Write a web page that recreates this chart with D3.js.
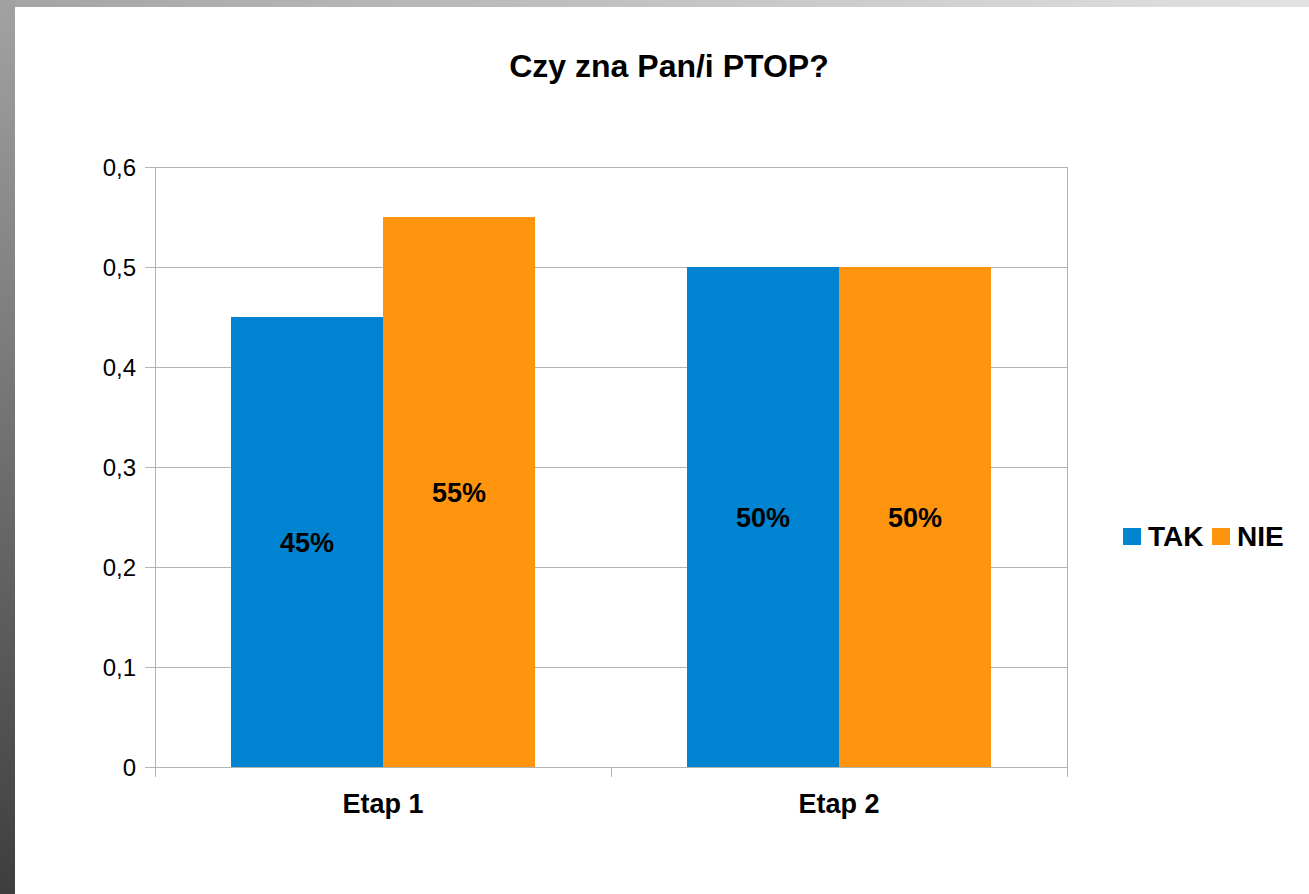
<!DOCTYPE html>
<html lang="pl">
<head>
<meta charset="UTF-8">
<title>Czy zna Pan/i PTOP?</title>
<script src="https://d3js.org/d3.v7.min.js"></script>
<style>
    body { margin: 0; padding: 0; background: #fff; font-family: "Liberation Sans", Arial, sans-serif; }
    svg { display: block; }
    .tick-label { font-size: 24px; fill: #000; }
    .cat-label { font-size: 27px; font-weight: bold; fill: #000; }
    .val-label { font-size: 27px; font-weight: bold; fill: #000; }
    .legend-text { font-size: 28px; font-weight: bold; fill: #000; }
</style>
</head>
<body>
<svg width="1309" height="894"></svg>
<script>
    const categories = ["Etap 1", "Etap 2"];
    const series = ["TAK", "NIE"];
    const takValues = [0.45, 0.5];
    const nieValues = [0.55, 0.5];
    const valueLabels = [["45%", "55%"], ["50%", "50%"]];
    const yTicks = [0, 0.1, 0.2, 0.3, 0.4, 0.5, 0.6];
    const colors = ["#0084d1", "#ff950e"];

    const width = 1309, height = 894;
    const svg = d3.select("svg");

    // ramka jak w zrzucie ekranu (gradienty)
    const defs = svg.append("defs");
    const gLeft = defs.append("linearGradient").attr("id", "gl")
        .attr("x1", 0).attr("y1", 0).attr("x2", 0).attr("y2", 1);
    gLeft.append("stop").attr("offset", "0%").attr("stop-color", "#a2a2a2");
    gLeft.append("stop").attr("offset", "100%").attr("stop-color", "#3e3e3e");
    const gTop = defs.append("linearGradient").attr("id", "gt")
        .attr("x1", 0).attr("y1", 0).attr("x2", 1).attr("y2", 0);
    gTop.append("stop").attr("offset", "0%").attr("stop-color", "#a4a4a4");
    gTop.append("stop").attr("offset", "100%").attr("stop-color", "#e2e2e2");

    svg.append("rect").attr("x", 0).attr("y", 0).attr("width", width).attr("height", 7).attr("fill", "url(#gt)");
    svg.append("rect").attr("x", 0).attr("y", 0).attr("width", 15).attr("height", height).attr("fill", "url(#gl)");

    const margin = { left: 155, top: 167, right: 1067, bottom: 767 };

    const x0 = d3.scaleBand().domain(categories).range([margin.left, margin.right]).paddingInner(0).paddingOuter(0);
    const x1 = d3.scaleBand().domain(series).range([0, x0.bandwidth()]).paddingInner(0).paddingOuter(0.5);
    const y = d3.scaleLinear().domain([0, 0.6]).range([margin.bottom, margin.top]);

    // siatka
    svg.append("g").selectAll("line").data(yTicks).join("line")
        .attr("x1", margin.left - 10).attr("x2", margin.right)
        .attr("y1", d => Math.round(y(d)) + 0.5).attr("y2", d => Math.round(y(d)) + 0.5)
        .attr("stroke", "#b3b3b3").attr("stroke-width", 1);

    // oś pionowa i prawa krawędź
    svg.append("line").attr("x1", margin.left + 0.5).attr("x2", margin.left + 0.5)
        .attr("y1", margin.top).attr("y2", margin.bottom + 10)
        .attr("stroke", "#b3b3b3");
    svg.append("line").attr("x1", margin.right + 0.5).attr("x2", margin.right + 0.5)
        .attr("y1", margin.top).attr("y2", margin.bottom + 10)
        .attr("stroke", "#b3b3b3");
    // znaczniki kategorii
    const xTicks = categories.map(c => x0(c)).concat([margin.right]);
    svg.append("g").selectAll("line").data(xTicks).join("line")
        .attr("x1", d => d + 0.5).attr("x2", d => d + 0.5)
        .attr("y1", margin.bottom).attr("y2", margin.bottom + 10)
        .attr("stroke", "#b3b3b3");

    // słupki
    const rows = categories.map((c, i) => ({ cat: c, vals: [takValues[i], nieValues[i]], labels: valueLabels[i] }));
    const groups = svg.append("g").selectAll("g").data(rows).join("g")
        .attr("transform", d => `translate(${x0(d.cat)},0)`);
    groups.selectAll("rect").data(d => d.vals.map((v, j) => ({ s: series[j], v, j }))).join("rect")
        .attr("x", d => x1(d.s)).attr("width", x1.bandwidth())
        .attr("y", d => y(d.v)).attr("height", d => y(0) - y(d.v))
        .attr("fill", d => colors[d.j]);
    groups.selectAll("text").data(d => d.vals.map((v, j) => ({ s: series[j], v, j, l: d.labels[j] }))).join("text")
        .attr("class", "val-label")
        .attr("x", d => x1(d.s) + x1.bandwidth() / 2)
        .attr("y", d => y(d.v / 2) + 10)
        .attr("text-anchor", "middle")
        .text(d => d.l);

    // etykiety osi Y
    svg.append("g").selectAll("text").data(yTicks).join("text")
        .attr("class", "tick-label")
        .attr("x", 136).attr("y", d => y(d) + 9)
        .attr("text-anchor", "end")
        .text(d => d3.format(".1f")(d).replace(".", ",").replace(/^0,0$/, "0"));

    // etykiety kategorii
    svg.append("g").selectAll("text").data(categories).join("text")
        .attr("class", "cat-label")
        .attr("x", d => x0(d) + x0.bandwidth() / 2).attr("y", 813)
        .attr("text-anchor", "middle")
        .text(d => d);

    // tytuł
    svg.append("text").attr("x", 669).attr("y", 77)
        .attr("text-anchor", "middle")
        .style("font-size", "32px").style("font-weight", "bold")
        .text("Czy zna Pan/i PTOP?");

    // legenda
    const legendX = [1123, 1212];
    const leg = svg.append("g").selectAll("g").data(series).join("g")
        .attr("transform", (d, i) => `translate(${legendX[i]},528)`);
    leg.append("rect").attr("width", 18).attr("height", 17).attr("fill", (d, i) => colors[i]);
    leg.append("text").attr("class", "legend-text").attr("x", 25).attr("y", 18)
        .text(d => d);
</script>
</body>
</html>
